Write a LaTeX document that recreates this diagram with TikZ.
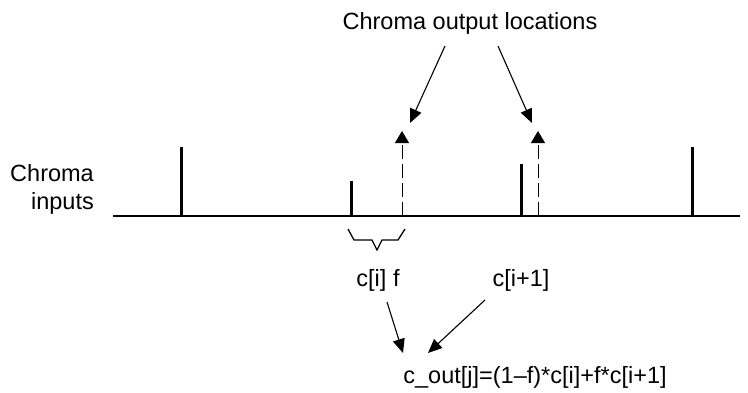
\documentclass[tikz,border=0pt]{standalone}
\usepackage{fontspec}
\setmainfont{Liberation Sans}
\usetikzlibrary{arrows.meta}
\begin{document}
\begin{tikzpicture}[x=1pt,y=-1pt,
  lbl/.style={font=\fontsize{23.5}{28}\selectfont, inner sep=0pt},
  axisline/.style={line width=2pt},
  tallbar/.style={line width=3pt},
  ptr/.style={line width=1.1pt, -{Triangle[length=14pt,width=12pt]}},
  outloc/.style={line width=1pt, dash pattern=on 14pt off 5pt, -{Triangle[length=12pt,width=14pt]}},
  brace/.style={line width=1.3pt}]
\useasboundingbox (0,0) rectangle (748,392);
% axis
\coordinate (a0) at (113,216);
\coordinate (a1) at (740,216);
\draw[axisline] (a0) -- (a1);
% input bars
\coordinate (b1) at (181,216); \coordinate (t1) at (181,147);
\coordinate (b2) at (351,216); \coordinate (t2) at (351,181);
\coordinate (b3) at (521,216); \coordinate (t3) at (521,164);
\coordinate (b4) at (692,216); \coordinate (t4) at (692,147);
\draw[tallbar] (b1) -- (t1);
\draw[tallbar] (b2) -- (t2);
\draw[tallbar] (b3) -- (t3);
\draw[tallbar] (b4) -- (t4);
% output locations
\coordinate (o1) at (402,216); \coordinate (ot1) at (402,131);
\coordinate (o2) at (538,216); \coordinate (ot2) at (538,131);
\draw[outloc] (o1) -- (ot1);
\draw[outloc] (o2) -- (ot2);
% labels
\node[lbl, align=right, anchor=east] (inp) at (94,189) {Chroma\\inputs};
\node[lbl] (outlbl) at (470,23) {Chroma output locations};
\coordinate (p1s) at (445,46); \coordinate (p1e) at (410,123);
\coordinate (p2s) at (498,46); \coordinate (p2e) at (532,123);
\draw[ptr] (p1s) -- (p1e);
\draw[ptr] (p2s) -- (p2e);
% brace
\draw[brace] (348,229) -- (354,240) -- (372,240) -- (377,250) -- (382,240) -- (398,240) -- (405,229);
% lower labels
\node[lbl] (ci) at (378,280) {c[i] f};
\node[lbl] (ci1) at (521,280) {c[i+1]};
\node[lbl] (cout) at (535,377) {c\_out[j]=(1–f)*c[i]+f*c[i+1]};
\coordinate (q1s) at (387,302); \coordinate (q1e) at (403,353);
\coordinate (q2s) at (485,300); \coordinate (q2e) at (428,353);
\draw[ptr] (q1s) -- (q1e);
\draw[ptr] (q2s) -- (q2e);
\end{tikzpicture}
\end{document}
